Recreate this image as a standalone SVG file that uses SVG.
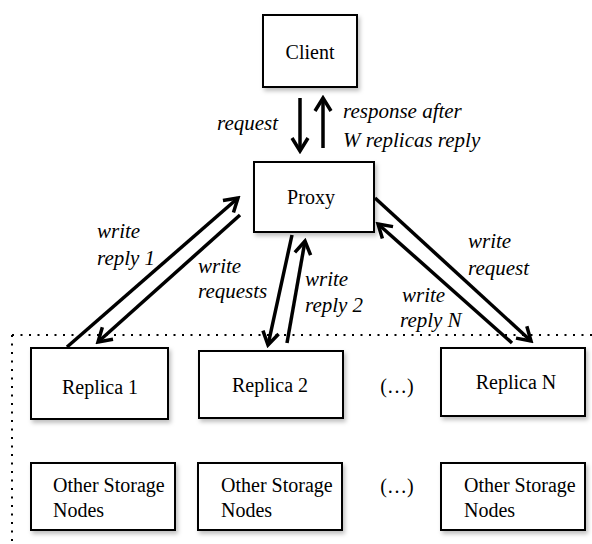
<svg xmlns="http://www.w3.org/2000/svg" width="592" height="544" viewBox="0 0 592 544">
<defs>
<filter id="sh" x="-10%" y="-10%" width="130%" height="140%">
<feDropShadow dx="2" dy="3" stdDeviation="2" flood-color="#000" flood-opacity="0.25"/>
</filter>
<marker id="ah" markerUnits="userSpaceOnUse" viewBox="-16 -11 19 22" markerWidth="19" markerHeight="22" refX="0" refY="0" orient="auto">
<path d="M-13,-8 L0,0 L-13,8" fill="none" stroke="#000" stroke-width="3.5" stroke-linejoin="miter"/>
</marker>
</defs>
<style>
.box{fill:#fff;stroke:#000;stroke-width:2;filter:url(#sh)}
text{font-family:'Liberation Serif','Times New Roman',Times,serif}
.nt{font-size:20px;fill:#000}
.lb{font-size:21px;font-style:italic;fill:#000}
.ar{stroke:#000;stroke-width:3.5;fill:none;marker-end:url(#ah)}
.dot{stroke:#000;stroke-width:2;fill:none;stroke-dasharray:2 6.5}
</style>
<rect width="592" height="544" fill="#fff"/>
<g id="region">
<path class="dot" d="M12,335 L592,335 M12,335 L12,544"/>
</g>
<g id="client">
<rect class="box" x="263" y="15" width="94" height="72"/>
<text class="nt" x="310" y="59" text-anchor="middle">Client</text>
</g>
<g id="proxy">
<rect class="box" x="254" y="162" width="120" height="70"/>
<text class="nt" x="311" y="204" text-anchor="middle">Proxy</text>
</g>
<g id="replica1">
<rect class="box" x="31" y="348" width="137" height="71"/>
<text class="nt" x="100" y="394" text-anchor="middle">Replica 1</text>
</g>
<g id="replica2">
<rect class="box" x="199" y="351" width="144" height="67"/>
<text class="nt" x="270" y="392" text-anchor="middle">Replica 2</text>
</g>
<g id="replicaN">
<rect class="box" x="441" y="348" width="144" height="68"/>
<text class="nt" x="516" y="389" text-anchor="middle">Replica N</text>
</g>
<g id="ellipsis1">
<text class="nt" x="397" y="393" text-anchor="middle">(…)</text>
</g>
<g id="storage1">
<rect class="box" x="31" y="463" width="144" height="67"/>
<text class="nt" x="53" y="492">Other Storage</text>
<text class="nt" x="53" y="517">Nodes</text>
</g>
<g id="storage2">
<rect class="box" x="198" y="463" width="144" height="67"/>
<text class="nt" x="221" y="492">Other Storage</text>
<text class="nt" x="221" y="517">Nodes</text>
</g>
<g id="storageN">
<rect class="box" x="441" y="463" width="144" height="67"/>
<text class="nt" x="464" y="492">Other Storage</text>
<text class="nt" x="464" y="517">Nodes</text>
</g>
<g id="ellipsis2">
<text class="nt" x="397" y="493" text-anchor="middle">(…)</text>
</g>
<g id="connectors">
<line class="ar" x1="300" y1="98" x2="300" y2="151"/>
<line class="ar" x1="323" y1="148" x2="323" y2="98"/>
<line class="ar" x1="67" y1="347" x2="238" y2="198"/>
<line class="ar" x1="240" y1="215" x2="98" y2="342"/>
<line class="ar" x1="292" y1="235" x2="268" y2="345"/>
<line class="ar" x1="287" y1="343" x2="305" y2="241"/>
<line class="ar" x1="375" y1="198" x2="531" y2="341"/>
<line class="ar" x1="512" y1="343" x2="378" y2="224"/>
</g>
<g id="labels">
<text class="lb" x="217" y="130">request</text>
<text class="lb" x="343" y="118">response after</text>
<text class="lb" x="343" y="147">W replicas reply</text>
<text class="lb" x="97" y="238">write</text>
<text class="lb" x="97" y="265">reply 1</text>
<text class="lb" x="198" y="273">write</text>
<text class="lb" x="198" y="298">requests</text>
<text class="lb" x="305" y="286">write</text>
<text class="lb" x="305" y="312">reply 2</text>
<text class="lb" x="468" y="248">write</text>
<text class="lb" x="468" y="275">request</text>
<text class="lb" x="402" y="302">write</text>
<text class="lb" x="400" y="327">reply N</text>
</g>
</svg>
